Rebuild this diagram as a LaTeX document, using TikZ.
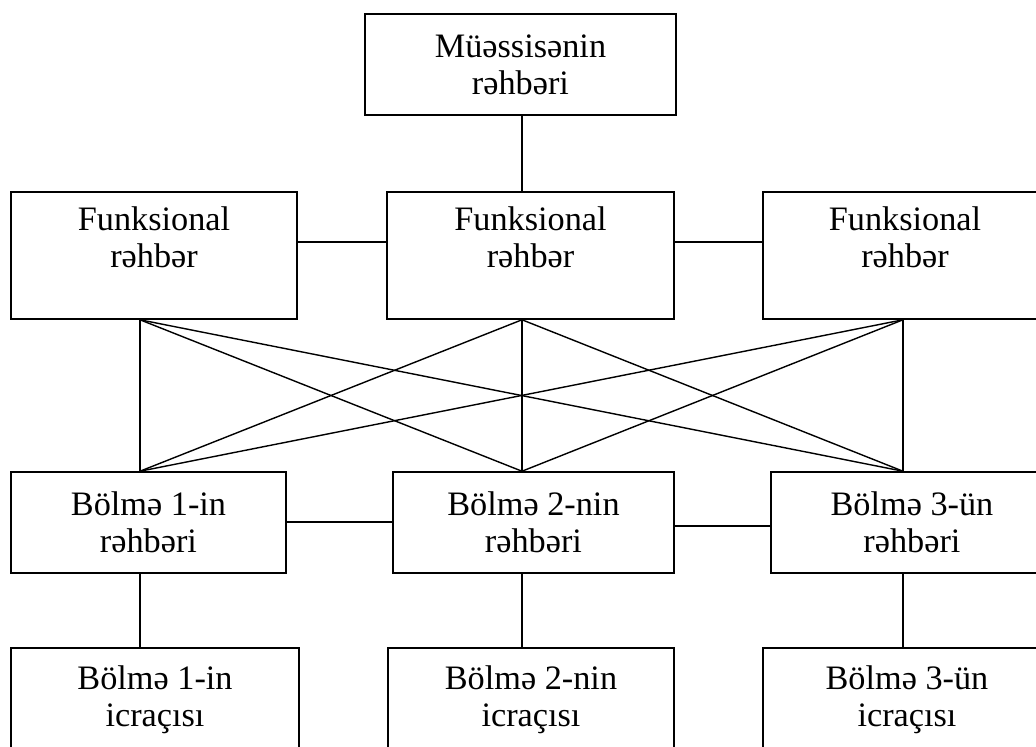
\documentclass[tikz,border=0pt]{standalone}
\usepackage{fontspec}
\setmainfont{Liberation Serif}
\usetikzlibrary{positioning, calc}

\begin{document}
\begin{tikzpicture}[x=0.02cm, y=-0.02cm,
  unitbox/.style={draw, line width=0.9pt, align=center, inner sep=0pt,
    font=\fontsize{19.5}{21}\selectfont},
  link/.style={line width=0.8pt}]
  \useasboundingbox (0,0) rectangle (1036,747);
  \clip (0,0) rectangle (1036,747);

  % head of the organisation
  \node[unitbox, minimum width=6.22cm, minimum height=2.02cm] (head) at (520.5,64.5) {Müəssisənin\\rəhbəri};

  % functional managers
  \node[unitbox, minimum width=5.72cm, minimum height=2.54cm] (fun1) at (154,255.5) {Funksional\\rəhbər\\\mbox{}};
  \node[unitbox, minimum width=5.74cm, minimum height=2.54cm] (fun2) at (530.5,255.5) {Funksional\\rəhbər\\\mbox{}};
  \node[unitbox, minimum width=5.68cm, minimum height=2.54cm] (fun3) at (905,255.5) {Funksional\\rəhbər\\\mbox{}};

  % heads of the sections
  \node[unitbox, minimum width=5.50cm, minimum height=2.02cm] (bol1) at (148.5,522.5) {Bölmə 1-in\\rəhbəri};
  \node[unitbox, minimum width=5.62cm, minimum height=2.02cm] (bol2) at (533.5,522.5) {Bölmə 2-nin\\rəhbəri};
  \node[unitbox, minimum width=5.64cm, minimum height=2.02cm] (bol3) at (912,522.5) {Bölmə 3-ün\\rəhbəri};

  % executors
  \node[unitbox, minimum width=5.76cm, minimum height=2.08cm] (exe1) at (155,700) {Bölmə 1-in\\icraçısı};
  \node[unitbox, minimum width=5.72cm, minimum height=2.08cm] (exe2) at (531,700) {Bölmə 2-nin\\icraçısı};
  \node[unitbox, minimum width=5.76cm, minimum height=2.08cm] (exe3) at (907,700) {Bölmə 3-ün\\icraçısı};

  % columns and rows of the connectors
  \coordinate (colA) at (140,0);
  \coordinate (colB) at (522,0);
  \coordinate (colC) at (903,0);
  \coordinate (rowF) at (0,242);
  \coordinate (rowB) at (0,522);
  \coordinate (rowC) at (0,526);

  \draw[link] (head.south -| colB) -- (fun2.north -| colB);
  \draw[link] (fun1.east |- rowF) -- (fun2.west |- rowF);
  \draw[link] (fun2.east |- rowF) -- (fun3.west |- rowF);
  \draw[link] (bol1.east |- rowB) -- (bol2.west |- rowB);
  \draw[link] (bol2.east |- rowC) -- (bol3.west |- rowC);

  % every functional manager to every section
  \foreach \u/\cu in {fun1/colA, fun2/colB, fun3/colC}
    \foreach \l/\cl in {bol1/colA, bol2/colB, bol3/colC}
      \draw[link] (\u.south -| \cu) -- (\l.north -| \cl);

  \foreach \l/\e/\c in {bol1/exe1/colA, bol2/exe2/colB, bol3/exe3/colC}
    \draw[link] (\l.south -| \c) -- (\e.north -| \c);
\end{tikzpicture}
\end{document}
